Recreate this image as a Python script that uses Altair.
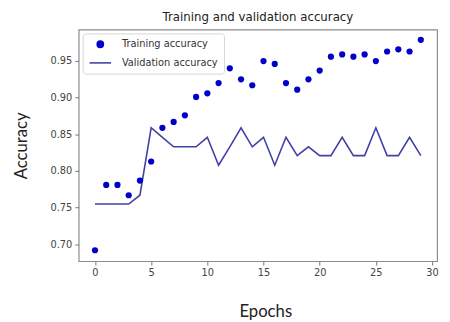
import altair as alt
import pandas as pd

epochs = list(range(30))
train_acc = [0.692, 0.781, 0.781, 0.767, 0.787, 0.813, 0.859, 0.867, 0.876, 0.901,
             0.906, 0.920, 0.940, 0.925, 0.917, 0.950, 0.946, 0.920, 0.911, 0.925,
             0.937, 0.956, 0.959, 0.956, 0.959, 0.950, 0.963, 0.966, 0.963, 0.979]
val_acc = [0.755, 0.755, 0.755, 0.755, 0.767, 0.859, 0.846, 0.833, 0.833, 0.833,
           0.846, 0.808, 0.833, 0.859, 0.833, 0.846, 0.808, 0.846, 0.821, 0.833,
           0.821, 0.821, 0.846, 0.821, 0.821, 0.859, 0.821, 0.821, 0.846, 0.821]
series_names = ["Training accuracy", "Validation accuracy"]
x_ticks = [0, 5, 10, 15, 20, 25, 30]
y_ticks = [0.70, 0.75, 0.80, 0.85, 0.90, 0.95]

train_df = pd.DataFrame({"epoch": epochs, "acc": train_acc, "series": series_names[0]})
val_df = pd.DataFrame({"epoch": epochs, "acc": val_acc, "series": series_names[1]})

dot_color = "#0000c8"
line_color = "#4040a6"

x_enc = alt.X("epoch:Q", scale=alt.Scale(domain=[-1.45, 30.45], nice=False, zero=False),
              axis=alt.Axis(values=x_ticks, format="d", title="Epochs",
                            titleX=190, titleY=56, titleBaseline="alphabetic"))
y_enc = alt.Y("acc:Q", scale=alt.Scale(domain=[0.677, 0.993], nice=False, zero=False),
              axis=alt.Axis(values=y_ticks, format=".2f", title="Accuracy",
                            titleX=-53, titleY=118, titleBaseline="alphabetic"))

color_scale = alt.Scale(domain=series_names, range=[dot_color, line_color])

legend = alt.Legend(
    title=None, orient="top-left", offset=4, padding=6,
    strokeColor="#d5d5d5", fillColor="white", cornerRadius=3,
    labelFont="DejaVu Sans", labelFontSize=10, labelColor="#333333",
    labelOffset=10, rowPadding=-5, symbolStrokeWidth=1.6, symbolStrokeColor=line_color,
)

points = alt.Chart(train_df).mark_point(filled=True, opacity=1).encode(
    x=x_enc, y=y_enc,
    color=alt.Color("series:N", scale=color_scale, legend=legend),
    shape=alt.Shape("series:N", scale=alt.Scale(domain=series_names, range=["circle", "stroke"]), legend=legend),
    size=alt.Size("series:N", scale=alt.Scale(domain=series_names, range=[40, 480]), legend=legend),
)

line = alt.Chart(val_df).mark_line(strokeWidth=1.6).encode(
    x=x_enc, y=y_enc,
    color=alt.Color("series:N", scale=color_scale, legend=legend),
)

chart = alt.layer(line, points).properties(
    width=365, height=236,
    title=alt.TitleParams("Training and validation accuracy", font="DejaVu Sans",
                          fontSize=12, fontWeight="normal", color="#222222", offset=6),
    autosize=alt.AutoSizeParams(type="none"),
    padding={"left": 72, "top": 19, "right": 5, "bottom": 60},
).configure_view(
    stroke="#8c8c8c", strokeWidth=1.2
).configure_axis(
    domain=False, grid=False, tickColor="#777777", tickSize=4, tickWidth=1,
    labelFont="DejaVu Sans", labelFontSize=10, labelColor="#444444", labelPadding=3,
    titleFont="Lato", titleFontSize=17, titleFontWeight="normal", titleColor="#222222",
)

chart.save("out.html", embed_options={"renderer": "svg", "actions": False})
